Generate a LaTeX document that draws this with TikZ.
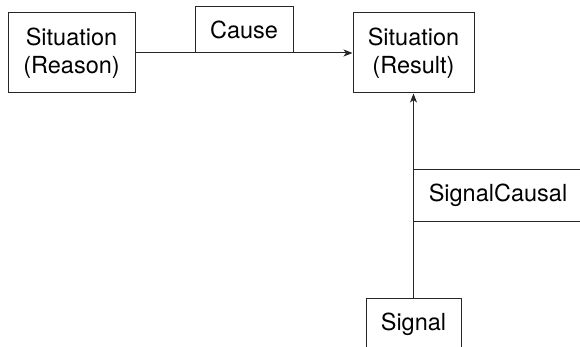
\documentclass[tikz,border=0pt]{standalone}
\usepackage{fontspec}
\setmainfont{TeX Gyre Heros}
\usetikzlibrary{arrows.meta}
\begin{document}
\begin{tikzpicture}[x=1pt,y=-1pt,
  box/.style={draw=black!85,line width=1pt,inner sep=0pt,align=center,
    font=\fontsize{23.5}{28}\selectfont},
  conn/.style={draw=black!85,line width=1pt},
  arr/.style={conn,-{Stealth[length=9pt,width=7pt,inset=2.5pt]}}]
\useasboundingbox (0,0) rectangle (580,347);
\clip (0,0) rectangle (580,347);
\node[box,minimum width=127pt,minimum height=80pt] (reason) at (71.5,53) {Situation\\(Reason)};
\node[box,minimum width=121pt,minimum height=80pt] (result) at (413.5,53) {Situation\\(Result)};
\node[box,minimum width=98pt,minimum height=46pt] (cause) at (244,30) {Cause};
\node[box,minimum width=170pt,minimum height=51pt] (sigcausal) at (498,195.5) {SignalCausal};
\node[box,minimum width=95pt,minimum height=52pt] (signal) at (413.5,324) {Signal};
\draw[arr] (reason.east) -- (result.west);
\draw[arr] (signal.north) -- (result.south);
\end{tikzpicture}
\end{document}
